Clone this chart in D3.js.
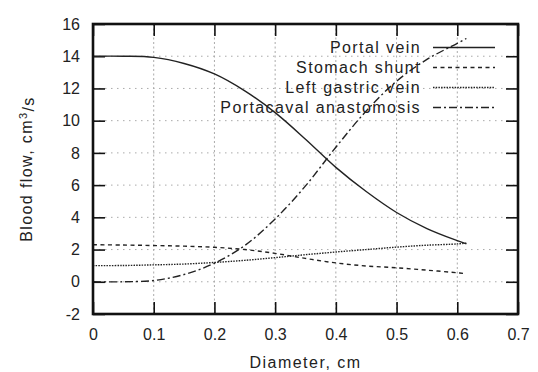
<!DOCTYPE html>
<html>
<head>
<meta charset="utf-8">
<script src="https://cdn.jsdelivr.net/npm/d3@7"></script>
<style>
  body { margin: 0; background: #fff; }
  svg text { font-family: "Liberation Sans", Arial, sans-serif; fill: #222; }
</style>
</head>
<body>
<div id="chart"></div>
<script>
// diameter (cm) and flows (cm^3/s)
var diameters   = [0, 0.05, 0.1, 0.15, 0.2, 0.25, 0.3, 0.35, 0.4, 0.45, 0.5, 0.55, 0.6, 0.615];
var portalVein  = [14.0, 14.0, 13.93, 13.55, 12.9, 11.85, 10.5, 8.85, 7.1, 5.6, 4.3, 3.3, 2.55, 2.35];
var stomachShunt = [2.3, 2.28, 2.25, 2.21, 2.14, 2.0, 1.76, 1.45, 1.17, 0.98, 0.87, 0.72, 0.56, 0.5];
var leftGastric = [1.0, 1.01, 1.05, 1.1, 1.2, 1.33, 1.5, 1.68, 1.85, 2.0, 2.15, 2.27, 2.35, 2.4];
var portacaval  = [0, 0, 0.08, 0.45, 1.15, 2.25, 3.9, 5.95, 8.35, 10.6, 12.45, 13.8, 14.8, 15.1];

var seriesNames = ["Portal vein", "Stomach shunt", "Left gastric vein", "Portacaval anastomosis"];
var xTicks = [0, 0.1, 0.2, 0.3, 0.4, 0.5, 0.6, 0.7];
var yTicks = [-2, 0, 2, 4, 6, 8, 10, 12, 14, 16];

var svgWidth = 538, svgHeight = 372;
var margin = { top: 24, right: 20, bottom: 58, left: 93 };
var width = svgWidth - margin.left - margin.right;
var height = svgHeight - margin.top - margin.bottom;

var svg = d3.select("#chart").append("svg")
  .attr("width", svgWidth)
  .attr("height", svgHeight);

var chartGroup = svg.append("g")
  .attr("transform", `translate(${margin.left}, ${margin.top})`);

var x = d3.scaleLinear().domain([0, 0.7]).range([0, width]);
var y = d3.scaleLinear().domain([-2, 16]).range([height, 0]);

// grid
chartGroup.append("g").selectAll("line").data(xTicks).enter().append("line")
  .attr("x1", d => x(d)).attr("x2", d => x(d))
  .attr("y1", 0).attr("y2", height)
  .attr("stroke", "#aaa").attr("stroke-width", 1)
  .attr("stroke-dasharray", "2,2.5");
chartGroup.append("g").selectAll("line").data(yTicks).enter().append("line")
  .attr("x1", 0).attr("x2", width)
  .attr("y1", d => y(d)).attr("y2", d => y(d))
  .attr("stroke", "#aaa").attr("stroke-width", 1)
  .attr("stroke-dasharray", "1.5,4.5");

// axes, ticks pointing inward, mirrored on top/right
function styleAxis(g) {
  g.select(".domain").remove();
  g.selectAll(".tick line").attr("stroke", "#111").attr("stroke-width", 1.6);
  g.selectAll(".tick text").attr("font-size", "16px").attr("fill", "#222");
}
var fmtX = d => d === 0 ? "0" : d3.format(".1f")(d);
var fmtY = d => String(d);

chartGroup.append("g")
  .attr("transform", `translate(0, ${height})`)
  .call(d3.axisBottom(x).tickValues(xTicks).tickFormat(fmtX).tickSizeInner(-12).tickSizeOuter(0).tickPadding(15))
  .call(styleAxis);
chartGroup.append("g")
  .call(d3.axisLeft(y).tickValues(yTicks).tickFormat(fmtY).tickSizeInner(-12).tickSizeOuter(0).tickPadding(13))
  .call(styleAxis);
chartGroup.append("g")
  .call(d3.axisTop(x).tickValues(xTicks).tickFormat("").tickSizeInner(-12).tickSizeOuter(0))
  .call(styleAxis);
chartGroup.append("g")
  .attr("transform", `translate(${width}, 0)`)
  .call(d3.axisRight(y).tickValues(yTicks).tickFormat("").tickSizeInner(-12).tickSizeOuter(0))
  .call(styleAxis);

// series
var allSeries = [portalVein, stomachShunt, leftGastric, portacaval];
var dashes = [null, "4,3.5", "1.5,1.2", "8,3,2,3"];

var line = d3.line()
  .x((d, i) => x(diameters[i]))
  .y(d => y(d))
  .curve(d3.curveCatmullRom.alpha(0.5));

allSeries.forEach(function(vals, i) {
  chartGroup.append("path")
    .datum(vals)
    .attr("d", line)
    .attr("fill", "none")
    .attr("stroke", "#222")
    .attr("stroke-width", 1.4)
    .attr("stroke-dasharray", dashes[i]);
});

// legend
var legend = svg.append("g");
seriesNames.forEach(function(name, i) {
  var ly = 47.5 + i * 20;
  legend.append("text")
    .attr("x", 421)
    .attr("y", ly)
    .attr("dy", "0.35em")
    .attr("text-anchor", "end")
    .attr("font-size", "16px")
    .attr("letter-spacing", "1.4px")
    .text(name);
  legend.append("line")
    .attr("x1", 433).attr("x2", 495)
    .attr("y1", ly).attr("y2", ly)
    .attr("stroke", "#222")
    .attr("stroke-width", 1.4)
    .attr("stroke-dasharray", dashes[i]);
});

// frame
chartGroup.append("rect")
  .attr("width", width).attr("height", height)
  .attr("fill", "none").attr("stroke", "#111").attr("stroke-width", 2.6);

// axis titles
svg.append("text")
  .attr("x", (margin.left + margin.left + width) / 2)
  .attr("y", 368)
  .attr("text-anchor", "middle")
  .attr("font-size", "16px")
  .attr("letter-spacing", "1.5px")
  .text("Diameter, cm");

var yTitle = svg.append("text")
  .attr("transform", `translate(32, ${margin.top + height / 2}) rotate(-90)`)
  .attr("text-anchor", "middle")
  .attr("font-size", "16px")
  .attr("letter-spacing", "1.4px");
yTitle.append("tspan").text("Blood flow, cm");
yTitle.append("tspan").attr("dy", "-0.45em").attr("font-size", "11px").text("3");
yTitle.append("tspan").attr("dy", "0.45em").text("/s");
</script>
</body>
</html>
